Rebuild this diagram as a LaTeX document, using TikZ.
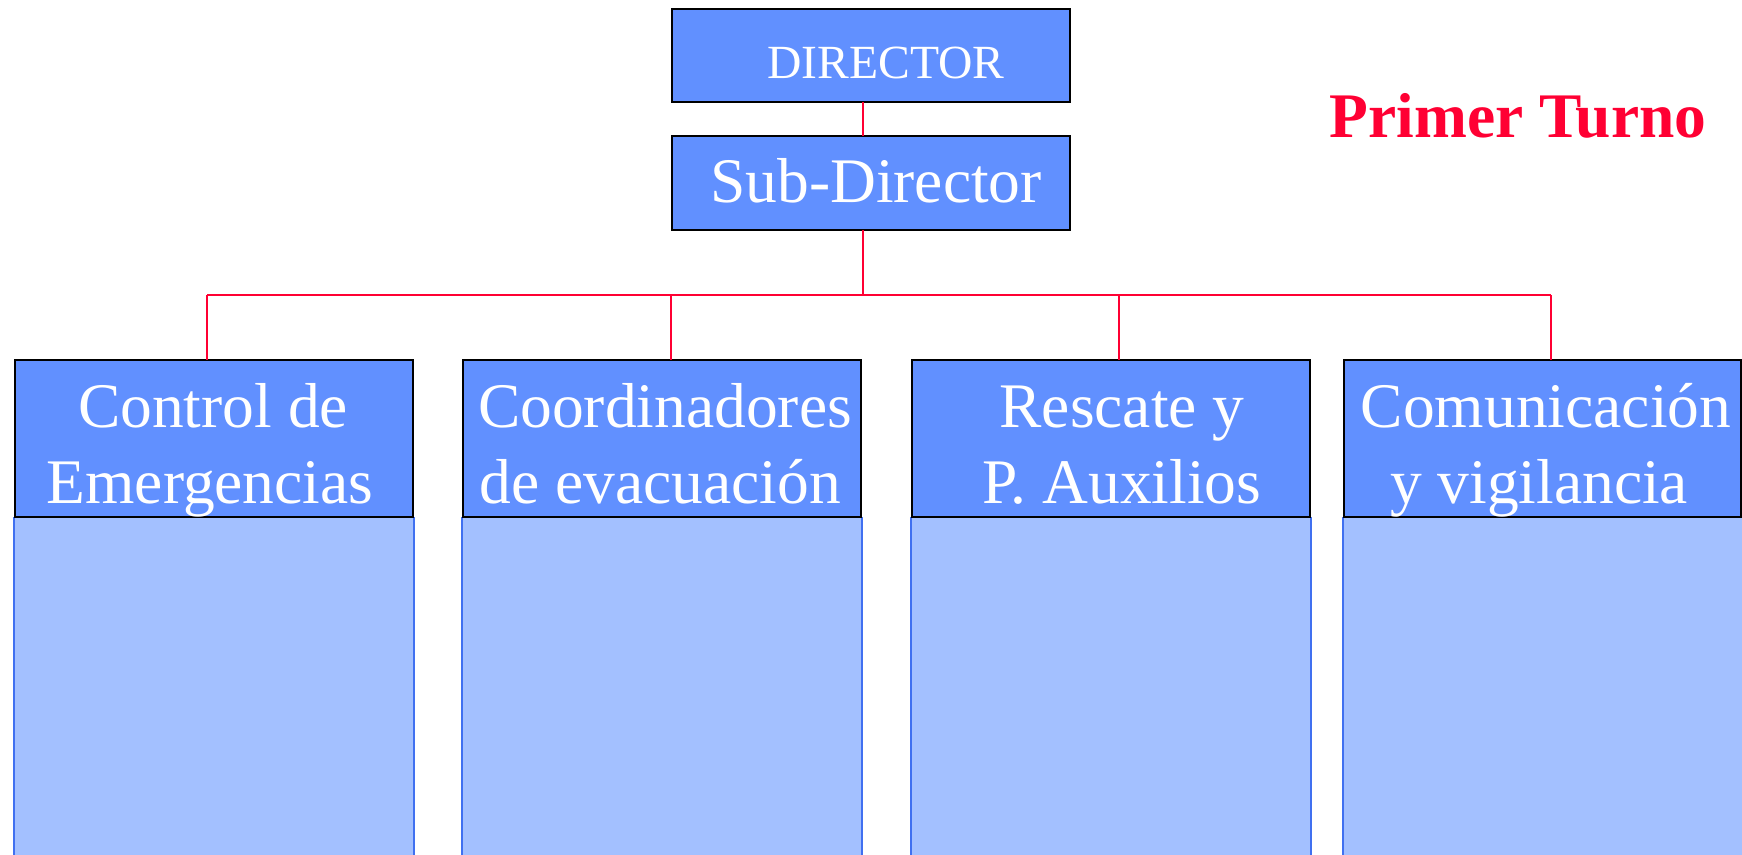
\documentclass[tikz,border=0pt]{standalone}
\usepackage{fontspec}
\setmainfont{Liberation Serif}
\definecolor{boxblue}{HTML}{6190FF}
\definecolor{lightblue}{HTML}{A3C0FF}
\definecolor{lightedge}{HTML}{4070F0}
\definecolor{linered}{HTML}{FF0033}
\begin{document}
\begin{tikzpicture}[x=1pt,y=-1pt,
  headbox/.style={draw=black,line width=2.6pt,fill=boxblue,inner sep=0pt,outer sep=0pt,minimum width=398pt},
  bodybox/.style={draw=lightedge,line width=1.8pt,fill=lightblue,inner sep=0pt,outer sep=0pt,minimum width=400pt,minimum height=345pt},
  conn/.style={draw=linered,line width=2pt},
  lbl/.style={text=white,inner sep=0pt,anchor=base,font=\fontsize{63.5}{70}\selectfont},
  smalllbl/.style={text=white,inner sep=0pt,anchor=base,font=\fontsize{47.6}{52}\selectfont}]
\useasboundingbox (0,0) rectangle (1742,854);
% light body boxes
\node[bodybox] (l1) at (214,690) {};
\node[bodybox] (l2) at (662,690) {};
\node[bodybox] (l3) at (1111,690) {};
\node[bodybox] (l4) at (1543,690) {};
% top boxes
\node[headbox,minimum height=93pt] (dir) at (871,55.5) {};
\node[headbox,minimum height=94pt] (sub) at (871,183) {};
% head boxes
\node[headbox,minimum height=157pt] (b1) at (214,438.5) {};
\node[headbox,minimum height=157pt] (b2) at (662,438.5) {};
\node[headbox,minimum height=157pt] (b3) at (1111,438.5) {};
\node[headbox,minimum height=157pt,minimum width=397pt] (b4) at (1542.5,438.5) {};
% connectors
\coordinate (bus0) at (863,295);
\coordinate (bus1) at (207,295);
\coordinate (bus2) at (671,295);
\coordinate (bus3) at (1119,295);
\coordinate (bus4) at (1551,295);
\draw[conn] ([xshift=-8pt]dir.south) -- ([xshift=-8pt]sub.north);
\draw[conn] ([xshift=-8pt]sub.south) -- (bus0);
\draw[conn] (bus1) -- (bus4);
\draw[conn] (bus1) -- (bus1 |- b1.north);
\draw[conn] (bus2) -- (bus2 |- b2.north);
\draw[conn] (bus3) -- (bus3 |- b3.north);
\draw[conn] (bus4) -- (bus4 |- b4.north);
% texts
\node[smalllbl] (tdir) at (886,78) {DIRECTOR};
\node[lbl] (tsub) at (876,202) {Sub-Director};
\node[inner sep=0pt,anchor=base,text=linered,font=\fontsize{63.5}{70}\selectfont\bfseries] (turno) at (1518,137) {Primer Turno};
\node[lbl] (t1a) at (213,427) {Control de};
\node[lbl] (t1b) at (210,503) {Emergencias};
\node[lbl] (t2a) at (665,427) {Coordinadores};
\node[lbl] (t2b) at (660,503) {de evacuación};
\node[lbl] (t3a) at (1122,427) {Rescate y};
\node[lbl] (t3b) at (1122,503) {P. Auxilios};
\node[lbl] (t4a) at (1546,427) {Comunicación};
\node[lbl] (t4b) at (1539,503) {y vigilancia};
\end{tikzpicture}
\end{document}
